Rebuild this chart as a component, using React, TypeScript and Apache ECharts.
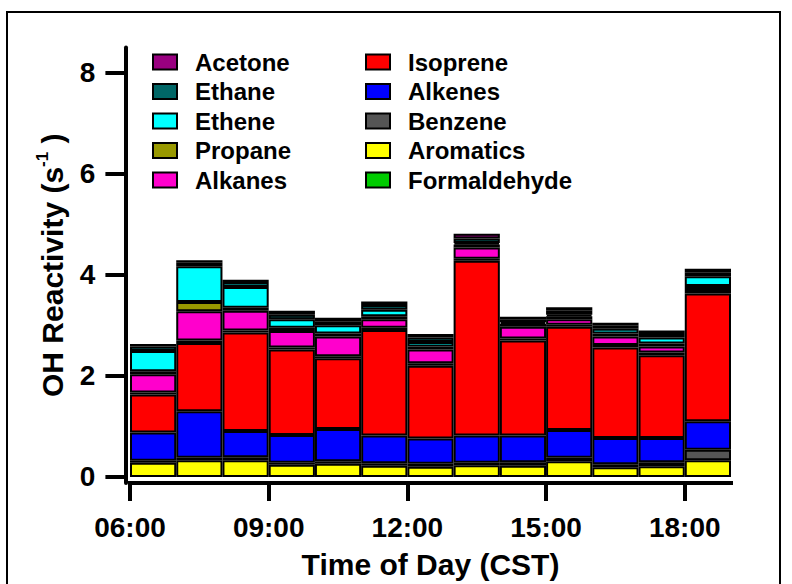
import React, { useEffect, useRef } from "react";
import * as echarts from "echarts";

// Hour-of-day bins (start hour of each 1 h bin, CST)
const hours = [6, 7, 8, 9, 10, 11, 12, 13, 14, 15, 16, 17, 18];

// OH reactivity contributions per species (s^-1), one value per hourly bin
const aromatics = [0.28, 0.33, 0.33, 0.24, 0.26, 0.22, 0.2, 0.23, 0.22, 0.31, 0.19, 0.21, 0.33];
const benzene = [0.04, 0.05, 0.06, 0.04, 0.05, 0.05, 0.06, 0.05, 0.07, 0.07, 0.06, 0.08, 0.21];
const alkenes = [0.56, 0.92, 0.52, 0.55, 0.64, 0.55, 0.5, 0.54, 0.53, 0.55, 0.52, 0.48, 0.56];
const isoprene = [0.75, 1.35, 1.95, 1.69, 1.4, 2.09, 1.44, 3.46, 1.88, 2.04, 1.79, 1.64, 2.53];
const formaldehyde = [0.04, 0.05, 0.04, 0.04, 0.04, 0.04, 0.05, 0.04, 0.04, 0.04, 0.05, 0.05, 0.05];
const alkanes = [0.36, 0.58, 0.39, 0.33, 0.39, 0.17, 0.27, 0.22, 0.23, 0.11, 0.17, 0.12, 0.04];
const propane = [0.06, 0.18, 0.06, 0.06, 0.06, 0.06, 0.06, 0.06, 0.06, 0.06, 0.06, 0.06, 0.06];
const ethene = [0.4, 0.71, 0.41, 0.17, 0.16, 0.13, 0.09, 0.03, 0.03, 0.03, 0.09, 0.12, 0.19];
const ethane = [0.09, 0.07, 0.1, 0.09, 0.08, 0.09, 0.09, 0.09, 0.06, 0.08, 0.06, 0.07, 0.08];
const acetone = [0.05, 0.05, 0.04, 0.08, 0.07, 0.07, 0.07, 0.09, 0.05, 0.07, 0.06, 0.07, 0.07];

// Axis ticks
const timeTicks = [6, 9, 12, 15, 18];
const reactivityTicks = [0, 2, 4, 6, 8];

// Legend columns
const legendLeft = ["Acetone", "Ethane", "Ethene", "Propane", "Alkanes"];
const legendRight = ["Isoprene", "Alkenes", "Benzene", "Aromatics", "Formaldehyde"];

// Stack order, bottom to top
const stackOrder = [
  { name: "Aromatics", data: aromatics, color: "#FFFF00" },
  { name: "Benzene", data: benzene, color: "#555555" },
  { name: "Alkenes", data: alkenes, color: "#0000FF" },
  { name: "Isoprene", data: isoprene, color: "#FF0000" },
  { name: "Formaldehyde", data: formaldehyde, color: "#00CC00" },
  { name: "Alkanes", data: alkanes, color: "#FF00CC" },
  { name: "Propane", data: propane, color: "#999900" },
  { name: "Ethene", data: ethene, color: "#00FFFF" },
  { name: "Ethane", data: ethane, color: "#006666" },
  { name: "Acetone", data: acetone, color: "#990080" },
];

const FONT = "'Liberation Sans', Arial, Helvetica, sans-serif";

export default function App() {
  const ref = useRef<HTMLDivElement>(null);

  useEffect(() => {
    if (!ref.current) return;
    const chart = echarts.init(ref.current, null, { renderer: "svg" });

    const legendText = {
      fontFamily: FONT,
      fontSize: 24,
      fontWeight: "bold",
      color: "#000",
      lineHeight: 24,
      padding: [0, 0, 0, 13],
    };

    chart.setOption({
      animation: false,
      backgroundColor: "#ffffff",
      textStyle: { fontFamily: FONT },
      graphic: [
        {
          type: "rect",
          silent: true,
          shape: { x: 7, y: 12, width: 773, height: 620 },
          style: { fill: "none", stroke: "#000", lineWidth: 2 },
        },
      ],
      grid: { left: 130, right: 61, top: 47.4, bottom: 99.6, containLabel: false },
      legend: [
        {
          data: legendLeft,
          orient: "vertical",
          left: 147,
          top: 45,
          itemWidth: 24,
          itemHeight: 15,
          itemGap: 5.5,
          icon: "rect",
          selectedMode: false,
          textStyle: legendText,
        },
        {
          data: legendRight,
          orient: "vertical",
          left: 360,
          top: 45,
          itemWidth: 24,
          itemHeight: 15,
          itemGap: 5.5,
          icon: "rect",
          selectedMode: false,
          textStyle: legendText,
        },
      ],
      xAxis: [
        {
          // hourly bins carrying the stacked bars
          type: "category",
          data: hours.map(String),
          boundaryGap: true,
          show: false,
        },
        {
          // continuous time-of-day scale for the axis line, ticks and labels
          type: "value",
          min: 6,
          max: 19,
          position: "bottom",
          axisLine: { onZero: false, lineStyle: { color: "#000", width: 4, cap: "square" } },
          axisTick: {
            customValues: timeTicks,
            length: 18,
            lineStyle: { color: "#000", width: 4 },
          },
          axisLabel: {
            customValues: timeTicks,
            formatter: (v: number) => `${String(v).padStart(2, "0")}:00`,
            fontFamily: FONT,
            fontSize: 28,
            fontWeight: "bold",
            color: "#000",
            margin: 30,
          },
          splitLine: { show: false },
          name: "Time of Day (CST)",
          nameLocation: "middle",
          nameGap: 66,
          nameTextStyle: { fontFamily: FONT, fontSize: 30, fontWeight: "bold", color: "#000" },
        },
      ],
      yAxis: {
        type: "value",
        min: -0.12,
        max: 8.5,
        offset: 4.6,
        axisLine: { show: true, onZero: false, lineStyle: { color: "#000", width: 4 } },
        axisTick: {
          customValues: reactivityTicks,
          length: 20,
          lineStyle: { color: "#000", width: 4 },
        },
        axisLabel: {
          customValues: reactivityTicks,
          fontFamily: FONT,
          fontSize: 28,
          fontWeight: "bold",
          color: "#000",
          margin: 30,
        },
        splitLine: { show: false },
        name: "{n|OH Reactivity (s}{sup|-1}{n| )}",
        nameLocation: "middle",
        nameRotate: 90,
        nameGap: 55,
        nameTextStyle: {
          rich: {
            n: { fontFamily: FONT, fontSize: 30, fontWeight: "bold", color: "#000", lineHeight: 36 },
            sup: {
              fontFamily: FONT,
              fontSize: 17,
              fontWeight: "bold",
              color: "#000",
              lineHeight: 17,
              verticalAlign: "top",
            },
          },
        },
      },
      series: stackOrder.map((s) => ({
        type: "bar",
        name: s.name,
        stack: "total",
        xAxisIndex: 0,
        barCategoryGap: 0,
        data: s.data,
        itemStyle: { color: s.color, borderColor: "#000", borderWidth: 2 },
        emphasis: { disabled: true },
      })),
    });

    return () => chart.dispose();
  }, []);

  return (
    <div
      ref={ref}
      style={{ position: "fixed", left: 0, top: 0, width: 792, height: 584 }}
    />
  );
}
